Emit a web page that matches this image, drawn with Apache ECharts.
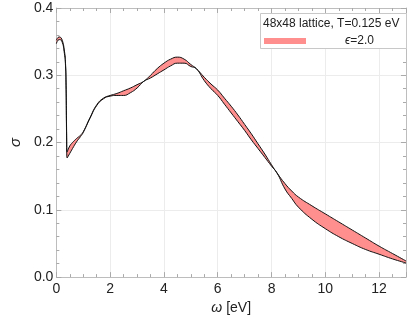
<!DOCTYPE html>
<html>
<head>
<meta charset="utf-8">
<script src="https://cdn.jsdelivr.net/npm/echarts@6/dist/echarts.min.js"></script>
<style>
  html, body { margin: 0; padding: 0; background: #fff; }
  #chart { width: 407px; height: 320px; }
</style>
</head>
<body>
<div id="chart"></div>
<script>
// omega [eV]
var omega = [0, 0.1, 0.2, 0.3, 0.34, 0.36, 0.38, 0.4, 0.5, 0.6, 0.75, 0.9, 1.0,
  1.25, 1.5, 1.75, 2.0, 2.25, 2.5, 2.75, 3.0, 3.25, 3.5, 3.75, 4.0, 4.25, 4.5,
  4.75, 5.0, 5.2, 5.5, 5.75, 6.0, 6.25, 6.5, 6.75, 7.0, 7.25, 7.5, 7.75, 8.0,
  8.2, 8.5, 8.75, 9.0, 9.5, 10.0, 10.5, 11.0, 11.5, 12.0, 12.5, 13.0];
// upper and lower edge of the band
var sigmaHi = [0.352, 0.357, 0.354, 0.336, 0.318, 0.29, 0.22, 0.186, 0.195, 0.200, 0.206, 0.211, 0.216,
  0.237, 0.256, 0.266, 0.270, 0.273, 0.277, 0.281, 0.286, 0.291, 0.300, 0.310, 0.318, 0.324, 0.327,
  0.324, 0.316, 0.310, 0.297, 0.287, 0.278, 0.266, 0.254, 0.241, 0.227, 0.213, 0.198, 0.183, 0.167,
  0.155, 0.139, 0.128, 0.119, 0.106, 0.094, 0.082, 0.070, 0.058, 0.046, 0.035, 0.024];
var sigmaLo = [0.347, 0.353, 0.351, 0.332, 0.314, 0.285, 0.21, 0.177, 0.184, 0.191, 0.201, 0.209, 0.215,
  0.236, 0.255, 0.265, 0.269, 0.270, 0.270, 0.274, 0.281, 0.291, 0.296, 0.302, 0.308, 0.314, 0.318,
  0.318, 0.313, 0.310, 0.292, 0.280, 0.270, 0.257, 0.244, 0.231, 0.218, 0.204, 0.191, 0.178, 0.165,
  0.155, 0.131, 0.117, 0.104, 0.086, 0.072, 0.060, 0.050, 0.041, 0.034, 0.027, 0.021];

var titleText = '48x48 lattice, T=0.125 eV';
var bandName = 'ϵ=2.0';

var frameColor = '#bdbdbd';
var font = 'Liberation Sans, Arial, sans-serif';

// value first so the stack goes on sigma, not on omega (both axes are value axes)
var loData = omega.map(function (x, i) { return [sigmaLo[i], x]; });
var widthData = omega.map(function (x, i) { return [+(sigmaHi[i] - sigmaLo[i]).toFixed(4), x]; });

function frameAxis(pos, extra) {
  var a = {
    type: 'value',
    position: pos,
    axisLine: { show: true, onZero: false, lineStyle: { color: frameColor, width: 1 } },
    axisTick: { show: true, inside: true, length: 5, lineStyle: { color: '#aaa' } },
    minorTick: { show: true, length: 3, lineStyle: { color: '#aaa' } },
    splitLine: { show: false },
    axisLabel: { show: false }
  };
  return Object.assign(a, extra);
}

var chart = echarts.init(document.getElementById('chart'));
chart.setOption({
  animation: false,
  textStyle: { fontFamily: font },
  grid: { left: 41, right: 1, top: 8, bottom: 39 },
  xAxis: [
    frameAxis('bottom', {
      min: 0, max: 13, interval: 2,
      minorTick: { show: true, splitNumber: 4, length: 3, lineStyle: { color: '#aaa' } },
      splitLine: { show: true, lineStyle: { color: '#ececec' } },
      axisLabel: { show: true, fontSize: 14, color: '#222', margin: 5, showMaxLabel: false, fontFamily: font },
      name: '{i|ω} [eV]',
      nameLocation: 'middle',
      nameGap: 23,
      nameTextStyle: { fontSize: 14, color: '#222', fontFamily: font, rich: { i: { fontStyle: 'italic', fontSize: 14, fontFamily: font } } }
    }),
    frameAxis('top', {
      min: 0, max: 13, interval: 2,
      minorTick: { show: true, splitNumber: 4, length: 3, lineStyle: { color: '#aaa' } }
    })
  ],
  yAxis: [
    frameAxis('left', {
      min: 0, max: 0.4, interval: 0.1,
      minorTick: { show: true, splitNumber: 5, length: 3, lineStyle: { color: '#aaa' } },
      splitLine: { show: true, lineStyle: { color: '#ececec' } },
      axisLabel: {
        show: true, fontSize: 14, color: '#222', margin: 3, fontFamily: font,
        formatter: function (v) { return v.toFixed(1); }
      },
      name: 'σ',
      nameLocation: 'middle',
      nameGap: 25,
      nameTextStyle: { fontSize: 15, color: '#222', fontStyle: 'italic', fontFamily: font }
    }),
    frameAxis('right', {
      min: 0, max: 0.4, interval: 0.1,
      minorTick: { show: true, splitNumber: 5, length: 3, lineStyle: { color: '#aaa' } }
    })
  ],
  legend: {
    data: [bandName],
    left: 264,
    top: 34,
    padding: 0,
    z: 10,
    selectedMode: false,
    icon: 'rect',
    itemWidth: 42,
    itemHeight: 6,
    itemStyle: { color: '#ff8f8f', borderWidth: 0 },
    formatter: function () { return '{i|ϵ}=2.0'; },
    textStyle: {
      fontSize: 12, color: '#222', lineHeight: 14, fontFamily: font,
      rich: { i: { fontStyle: 'italic', fontSize: 12, padding: [0, 0, 0, 34], fontFamily: font } }
    }
  },
  graphic: [
    {
      type: 'rect', left: 260, top: 13, z: 5,
      shape: { width: 146, height: 35 },
      style: { fill: '#fff', stroke: '#c8c8c8', lineWidth: 1 }
    },
    {
      type: 'text', left: 263, top: 18, z: 6,
      style: { text: titleText, fontSize: 12, fill: '#222', fontFamily: font }
    }
  ],
  series: [
    {
      name: 'lower',
      type: 'line',
      data: loData,
      encode: { x: 1, y: 0 },
      stack: 'band',
      smooth: 0.5,
      symbol: 'none',
      lineStyle: { color: '#111', width: 1 },
      z: 3
    },
    {
      name: bandName,
      type: 'line',
      data: widthData,
      encode: { x: 1, y: 0 },
      stack: 'band',
      smooth: 0.5,
      symbol: 'none',
      itemStyle: { color: '#ff8f8f' },
      lineStyle: { color: '#111', width: 1 },
      areaStyle: { color: '#ff8f8f', opacity: 1 },
      z: 2
    }
  ]
});
</script>
</body>
</html>
